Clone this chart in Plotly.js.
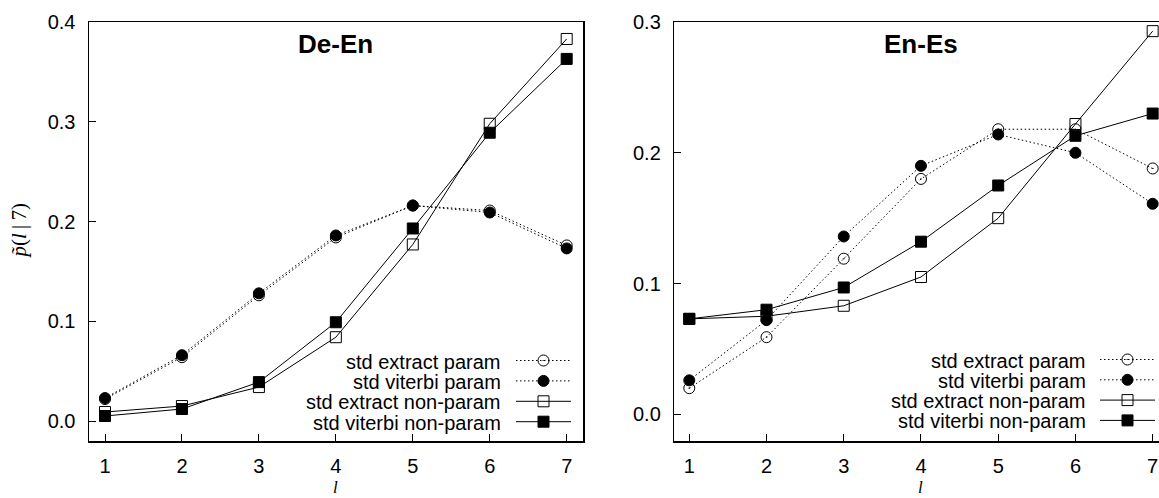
<!DOCTYPE html>
<html>
<head>
<meta charset="utf-8">
<script src="https://cdn.plot.ly/plotly-3.0.1.min.js"></script>
<style>html,body{margin:0;padding:0;background:#fff;}#chart{width:1159px;height:498px;}
.infolayer text.legendtext{display:none;}</style>
</head>
<body>
<div id="chart"></div>
<script>
// ---- data ----
const lengths = [1, 2, 3, 4, 5, 6, 7];
const seriesNames = ["std extract param", "std viterbi param", "std extract non-param", "std viterbi non-param"];
const panelTitles = ["De-En", "En-Es"];

// De-En
const deEnExtractParam    = [0.022, 0.064, 0.126, 0.184, 0.216, 0.211, 0.176];
const deEnViterbiParam    = [0.023, 0.066, 0.128, 0.186, 0.216, 0.209, 0.173];
const deEnExtractNonParam = [0.009, 0.015, 0.034, 0.084, 0.177, 0.298, 0.383];
const deEnViterbiNonParam = [0.005, 0.012, 0.039, 0.099, 0.193, 0.289, 0.363];

// En-Es
const enEsExtractParam    = [0.020, 0.059, 0.119, 0.180, 0.218, 0.218, 0.188];
const enEsViterbiParam    = [0.026, 0.072, 0.136, 0.190, 0.214, 0.200, 0.161];
const enEsExtractNonParam = [0.073, 0.075, 0.083, 0.105, 0.150, 0.222, 0.293];
const enEsViterbiNonParam = [0.073, 0.080, 0.097, 0.132, 0.175, 0.213, 0.230];

const yTicksLeft = [0, 0.1, 0.2, 0.3, 0.4];
const yTicksRight = [0, 0.1, 0.2, 0.3];

// ---- styles ----
const SANS = "Liberation Sans, Arial, Helvetica, sans-serif";
const SERIF = "Liberation Serif, Times New Roman, serif";
const styles = [
  {dash: "1.5px,2.5px", symbol: "circle-open-dot", size: 11},
  {dash: "1.5px,2.5px", symbol: "circle", size: 11},
  {dash: "solid", symbol: "square-open", size: 11},
  {dash: "solid", symbol: "square", size: 11}
];

function mk(xa, ya, legendId, ys, i) {
  return {
    x: lengths, y: ys, xaxis: xa, yaxis: ya, legend: legendId,
    type: "scatter", mode: "lines+markers", name: seriesNames[i],
    line: {color: "#000", width: 1, dash: styles[i].dash},
    marker: {symbol: styles[i].symbol, size: styles[i].size, color: "#000", line: {color: "#000", width: 1}},
    cliponaxis: false
  };
}

const data = [
  mk("x", "y", "legend", deEnExtractParam, 0),
  mk("x", "y", "legend", deEnViterbiParam, 1),
  mk("x", "y", "legend", deEnExtractNonParam, 2),
  mk("x", "y", "legend", deEnViterbiNonParam, 3),
  mk("x2", "y2", "legend2", enEsExtractParam, 0),
  mk("x2", "y2", "legend2", enEsViterbiParam, 1),
  mk("x2", "y2", "legend2", enEsExtractNonParam, 2),
  mk("x2", "y2", "legend2", enEsViterbiNonParam, 3)
];

const W = 1159, H = 498, T = 22, B = 57;
const plotH = H - T - B;
function py(pix) { return (H - B - pix) / plotH; }

const axisCommon = {
  showgrid: false, zeroline: false, showline: true, linecolor: "#000", linewidth: 1.5,
  ticks: "inside", ticklen: 7, tickwidth: 1, tickcolor: "#000",
  tickfont: {family: SANS, size: 20, color: "#000"}, fixedrange: true
};

const ITEMW = 55;
const legendCommon = {
  bgcolor: "rgba(0,0,0,0)", borderwidth: 0,
  font: {family: SANS, size: 12, color: "rgba(0,0,0,0)"},
  itemwidth: ITEMW, yanchor: "bottom", y: py(433), xanchor: "right", tracegroupgap: 0
};

// Legend placement in the gnuplot style: text right-aligned, key sample on the right.
const legendPlacement = {
  legend:  {xref: "x",  sampleLeft: 516,  textRight: 502,  firstRow: 360.5, rowStep: 20.4},
  legend2: {xref: "x2", sampleLeft: 1100, textRight: 1087, firstRow: 359.5, rowStep: 20.3}
};

const annotations = [
  {text: "<b>" + panelTitles[0] + "</b>", xref: "x", yref: "paper", x: 4, y: py(44),
   xanchor: "center", yanchor: "middle", showarrow: false, font: {family: SANS, size: 26, color: "#000"}},
  {text: "<b>" + panelTitles[1] + "</b>", xref: "x2", yref: "paper", x: 4, y: py(44),
   xanchor: "center", yanchor: "middle", showarrow: false, font: {family: SANS, size: 26, color: "#000"}},
  {text: "<i>p\u0303</i>(<i>l</i>\u2009|\u20097)", xref: "paper", yref: "paper", x: 18 / W, y: 0.5,
   xanchor: "center", yanchor: "middle", textangle: -90, showarrow: false,
   font: {family: SERIF, size: 21, color: "#000"}},
  {text: "<i>l</i>", xref: "x", yref: "paper", x: 4, y: py(497.5), borderpad: 0,
   xanchor: "center", yanchor: "bottom", showarrow: false, font: {family: SERIF, size: 17, color: "#000"}},
  {text: "<i>l</i>", xref: "x2", yref: "paper", x: 4, y: py(497.5), borderpad: 0,
   xanchor: "center", yanchor: "bottom", showarrow: false, font: {family: SERIF, size: 17, color: "#000"}}
];

// legend labels (right-aligned text, left of the key samples)
Object.keys(legendPlacement).forEach(function (id) {
  const p = legendPlacement[id];
  seriesNames.forEach(function (name, i) {
    annotations.push({
      text: name, xref: "paper", yref: "paper", x: p.textRight / W, y: py(p.firstRow + i * p.rowStep + 1),
      xanchor: "right", yanchor: "middle", showarrow: false, borderpad: 0,
      font: {family: SANS, size: 20, color: "#000"}
    });
  });
});

const layout = {
  width: W, height: H,
  margin: {l: 0, r: 0, t: T, b: B},
  paper_bgcolor: "#fff", plot_bgcolor: "#fff",
  showlegend: true,
  xaxis: Object.assign({}, axisCommon, {
    domain: [89 / W, 583 / W], range: [0.792, 7.212], anchor: "y",
    tickvals: lengths, mirror: true, ticklabelstandoff: 6
  }),
  yaxis: Object.assign({}, axisCommon, {
    domain: [0, 1], range: [-0.02005, 0.4], anchor: "x",
    tickvals: yTicksLeft, tickformat: ".1f", mirror: true, ticklabelstandoff: 8
  }),
  xaxis2: Object.assign({}, axisCommon, {
    domain: [674.3 / W, 1], range: [0.806, 7.082], anchor: "y2",
    tickvals: lengths, mirror: true, ticklabelstandoff: 6
  }),
  yaxis2: Object.assign({}, axisCommon, {
    domain: [0, 1], range: [-0.0204, 0.3], anchor: "x2",
    tickvals: yTicksRight, tickformat: ".1f", mirror: false, ticklabelstandoff: 8
  }),
  legend: Object.assign({}, legendCommon, {x: 575 / W}),
  legend2: Object.assign({}, legendCommon, {x: 0.7}),
  annotations: annotations
};

function restyleLegends() {
  const gd = document.getElementById("chart");
  Object.keys(legendPlacement).forEach(function (id) {
    const p = legendPlacement[id];
    const lg = gd.querySelector("g.infolayer > g." + id);
    if (!lg) return;
    lg.setAttribute("transform", "translate(0,0)");
    const bg = lg.querySelector("rect.bg");
    if (bg) bg.setAttribute("display", "none");
    lg.querySelectorAll("[clip-path]").forEach(function (el) { el.removeAttribute("clip-path"); });
    lg.querySelectorAll("g.scrollbox").forEach(function (sb) { sb.setAttribute("transform", "translate(0,0)"); });
    lg.querySelectorAll("g.traces").forEach(function (it, i) {
      it.setAttribute("transform", "translate(" + (p.sampleLeft - 5) + "," + (p.firstRow + i * p.rowStep) + ")");
    });
    lg.querySelectorAll("text").forEach(function (t) { t.remove(); });
  });
}

Plotly.newPlot("chart", data, layout, {displayModeBar: false, staticPlot: true});
restyleLegends();
Promise.resolve().then(restyleLegends);
requestAnimationFrame(restyleLegends);
[0, 50, 150, 400, 1000].forEach(function (ms) { setTimeout(restyleLegends, ms); });
</script>
</body>
</html>
